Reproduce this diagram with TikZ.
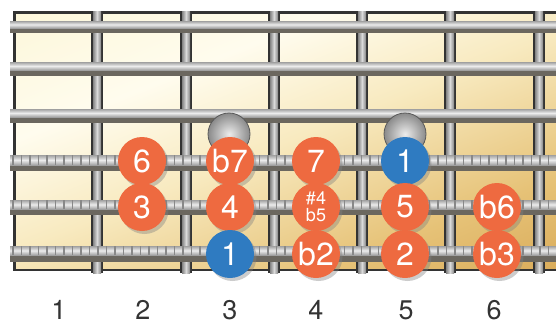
\documentclass[tikz,border=0pt]{standalone}
\usepackage{fontspec}
\setmainfont{TeX Gyre Heros}
\usetikzlibrary{shadows}
\definecolor{dotor}{HTML}{EE6A40}
\definecolor{dotbl}{HTML}{2F7BC1}
\definecolor{bA}{HTML}{FAF2C6}
\definecolor{bB}{HTML}{FFFCEE}
\definecolor{bC}{HTML}{F8EAC0}
\definecolor{bD}{HTML}{E6C277}
\definecolor{bE}{HTML}{C98F35}
\definecolor{fretdk}{HTML}{333333}
\definecolor{fretmd}{HTML}{858585}
\definecolor{fretlt}{HTML}{DADADA}
\definecolor{strshd}{HTML}{6B675F}
\definecolor{strlt}{HTML}{ECECEC}
\definecolor{strdk}{HTML}{A0A0A0}
\definecolor{tickc}{HTML}{888888}
\definecolor{labc}{HTML}{333333}
\definecolor{inlo}{HTML}{8A8A8A}
\definecolor{inli}{HTML}{ECECEC}
\pgfdeclarehorizontalshading{boardsh}{100bp}{color(0bp)=(bA); color(35bp)=(bB); color(50bp)=(bC); color(70bp)=(bD); color(100bp)=(bE)}
\tikzset{
  dotbase/.style={circle, minimum size=48bp, inner sep=0pt, text=white,
    font=\fontsize{32bp}{32bp}\selectfont,
    drop shadow={shadow xshift=2.5bp, shadow yshift=-3bp, opacity=0.4}},
  ordot/.style={dotbase, fill=dotor},
  bldot/.style={dotbase, fill=dotbl},
  fretlab/.style={text=labc, font=\fontsize{27bp}{27bp}\selectfont, inner sep=0pt},
  inlay/.style={inner color=inli, outer color=inlo, draw=black!65, line width=0.8bp}
}
\begin{document}
\begin{tikzpicture}[x=1bp,y=-1bp]
\useasboundingbox (0,0) rectangle (556,325);
% board
\shade[shading=boardsh, shading angle=-68] (14,12) rectangle (556,270);
\draw[fretdk, line width=2.5bp] (556,12.5) -- (14.5,12.5) -- (14.5,270) -- (556,270);
% frets
\foreach \fx in {97,186,274,362,450,539} {
  \fill[fretdk] (\fx-6,11) rectangle (\fx+6,273);
  \shade[left color=fretmd, right color=fretmd, middle color=fretlt] (\fx-4,11) rectangle (\fx+4,273);
}
% plain strings
\foreach \ya/\yb/\yc in {21/28/33, 62/70/76, 109/117/123} {
  \fill[strshd] (10,\yb) rectangle (556,\yc);
  \shade[top color=strdk, bottom color=strdk, middle color=strlt] (10,\ya) rectangle (556,\yb);
}
% wound strings
\foreach \ya/\yb/\yc in {155/165/171, 200/209/215, 246/255/262} {
  \fill[strshd] (10,\yb) rectangle (556,\yc);
  \shade[top color=strdk, bottom color=strdk, middle color=strlt] (10,\ya) rectangle (556,\yb);
  \foreach \t in {13,21.5,...,556} \draw[tickc, line width=1.4bp] (\t,\ya) -- (\t,\yb);
}
% inlays
\shade[inlay] (229,134) circle (21bp);
\shade[inlay] (405,134) circle (21bp);
% dots
\node[ordot] (d4a) at (142,161) {6};
\node[ordot] (d4b) at (230,161) {b7};
\node[ordot] (d4c) at (316,161) {7};
\node[bldot] (d4d) at (405,161) {1};
\node[ordot] (d5a) at (142,207) {3};
\node[ordot] (d5b) at (230,207) {4};
\node[ordot, align=center, font=\fontsize{18bp}{17bp}\selectfont] (d5c) at (316,207) {\#4\\b5};
\node[ordot] (d5d) at (405,207) {5};
\node[ordot] (d5e) at (497,207) {b6};
\node[bldot] (d6a) at (230,254) {1};
\node[ordot] (d6b) at (316,254) {b2};
\node[ordot] (d6c) at (405,254) {2};
\node[ordot] (d6d) at (497,254) {b3};
% fret numbers
\node[fretlab] (l1) at (59,310) {1};
\node[fretlab] (l2) at (143,310) {2};
\node[fretlab] (l3) at (230,310) {3};
\node[fretlab] (l4) at (316,310) {4};
\node[fretlab] (l5) at (406,310) {5};
\node[fretlab] (l6) at (494,310) {6};
\end{tikzpicture}
\end{document}
